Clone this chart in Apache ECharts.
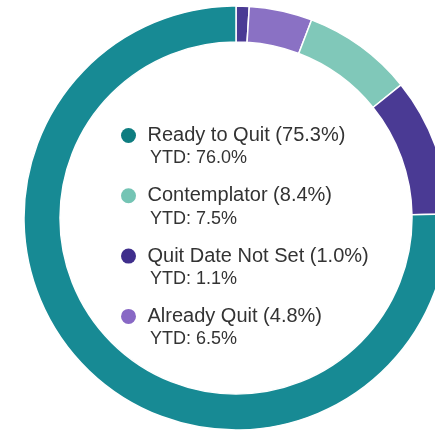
<!DOCTYPE html>
<html>
<head>
<meta charset="utf-8">
<script src="https://cdn.jsdelivr.net/npm/echarts@6/dist/echarts.min.js"></script>
<style>
  html, body { margin: 0; padding: 0; background: #fff; }
  #chart { width: 435px; height: 433px; }
</style>
</head>
<body>
<div id="chart"></div>
<script>
// slices, clockwise from 12 o'clock
var names = ['Quit Date Not Set', 'Already Quit', 'Contemplator', 'Other', 'Ready to Quit'];
var values = [1.0, 4.8, 8.4, 10.5, 75.3];
var ringColors = ['#4a3a94', '#8a71c4', '#80c8b9', '#4a3a94', '#178a94'];

// legend (order as shown)
var legendNames = ['Ready to Quit', 'Contemplator', 'Quit Date Not Set', 'Already Quit'];
var legendPct = ['75.3%', '8.4%', '1.0%', '4.8%'];
var ytdPct = ['76.0%', '7.5%', '1.1%', '6.5%'];
var legendColors = ['#0e7d80', '#74c4b4', '#3f2e8c', '#8868c5'];

var myChart = echarts.init(document.getElementById('chart'));

var pieData = names.map(function (n, i) {
    return { name: n, value: values[i], itemStyle: { color: ringColors[i] } };
});

var option = {
    animation: false,
    legend: [
        {
            orient: 'vertical',
            left: 121,
            top: 125.5,
            padding: 0,
            itemWidth: 28,
            itemHeight: 15,
            itemGap: 40.3,
            icon: 'circle',
            selectedMode: false,
            itemStyle: { borderWidth: 0 },
            textStyle: { fontFamily: 'Liberation Sans, Arial, sans-serif', fontSize: 20, lineHeight: 20, color: '#333' },
            formatter: function (name) {
                var i = legendNames.indexOf(name);
                return name + ' (' + legendPct[i] + ')';
            },
            data: legendNames.map(function (n, i) {
                return { name: n, itemStyle: { color: legendColors[i] } };
            })
        },
        {
            orient: 'vertical',
            left: 145,
            top: 149.5,
            padding: 0,
            itemWidth: 0,
            itemHeight: 0,
            itemGap: 42.3,
            selectedMode: false,
            itemStyle: { color: 'rgba(0,0,0,0)', borderWidth: 0 },
            textStyle: { fontFamily: 'Liberation Sans, Arial, sans-serif', fontSize: 18, lineHeight: 18, color: '#333' },
            formatter: function (name) {
                var i = legendNames.indexOf(name);
                return 'YTD: ' + ytdPct[i];
            },
            data: legendNames
        }
    ],
    series: [
        {
            type: 'pie',
            center: [236, 218],
            radius: [176, 212],
            startAngle: 90,
            clockwise: true,
            label: { show: false },
            labelLine: { show: false },
            emphasis: { disabled: true },
            itemStyle: { borderColor: '#fff', borderWidth: 1.5 },
            data: pieData
        }
    ]
};
myChart.setOption(option);
window.addEventListener('resize', function () {
    myChart.resize();
});
</script>
</body>
</html>
